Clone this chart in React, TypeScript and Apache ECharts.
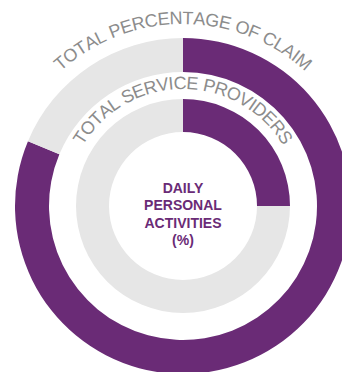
import React, { useEffect, useRef } from "react";
import * as echarts from "echarts";

const outerLabel = "TOTAL PERCENTAGE OF CLAIM";
const innerLabel = "TOTAL SERVICE PROVIDERS";
const centerLabel = ["DAILY", "PERSONAL", "ACTIVITIES", "(%)"];
const outerValues = [81.3, 18.7]; // claim share, remainder
const innerValues = [25, 75]; // providers share, remainder

const PURPLE = "#6a2b76";
const GREY = "#e6e6e6";
const TEXT_GREY = "#8c8c8c";
const FONT = "Liberation Sans, Arial, sans-serif";

const CX = 183;
const CY = 206;

function arcText(text: string, radius: number, fontSize: number) {
  const canvas = document.createElement("canvas");
  const ctx = canvas.getContext("2d") as CanvasRenderingContext2D;
  ctx.font = `${fontSize}px "Liberation Sans", Arial, sans-serif`;
  const widths = Array.from(text).map((ch) => ctx.measureText(ch).width);
  const total = widths.reduce((a, b) => a + b, 0);
  const start = -total / (2 * radius);
  let acc = 0;
  const els: any[] = [];
  Array.from(text).forEach((ch, i) => {
    const theta = start + (acc + widths[i] / 2) / radius;
    acc += widths[i];
    if (ch === " ") return;
    els.push({
      type: "text",
      x: CX + radius * Math.sin(theta),
      y: CY - radius * Math.cos(theta),
      rotation: -theta,
      silent: true,
      style: {
        text: ch,
        fill: TEXT_GREY,
        fontSize,
        fontFamily: FONT,
        align: "center",
        verticalAlign: "middle",
      },
    });
  });
  return els;
}

export default function App() {
  const ref = useRef<HTMLDivElement>(null);
  useEffect(() => {
    document.body.style.margin = "0";
    const chart = echarts.init(ref.current as HTMLDivElement, undefined, { renderer: "svg" });
    chart.setOption({
      animation: false,
      series: [
        {
          type: "pie",
          center: [CX, CY],
          radius: [134, 168],
          startAngle: 90,
          clockwise: true,
          silent: true,
          label: { show: false },
          labelLine: { show: false },
          data: outerValues.map((v, i) => ({
            value: v,
            itemStyle: { color: i === 0 ? PURPLE : GREY },
          })),
        },
        {
          type: "pie",
          center: [CX, CY],
          radius: [74, 107],
          startAngle: 90,
          clockwise: true,
          silent: true,
          label: { show: false },
          labelLine: { show: false },
          data: innerValues.map((v, i) => ({
            value: v,
            itemStyle: { color: i === 0 ? PURPLE : GREY },
          })),
        },
      ],
      graphic: [
        ...arcText(outerLabel, 188, 18),
        ...arcText(innerLabel, 123, 18),
        {
          type: "text",
          x: CX,
          y: 214,
          silent: true,
          style: {
            text: centerLabel.join("\n"),
            fill: PURPLE,
            fontSize: 14,
            fontWeight: "bold",
            fontFamily: FONT,
            lineHeight: 17.5,
            align: "center",
            verticalAlign: "middle",
          },
        },
      ],
    });
    return () => chart.dispose();
  }, []);
  return <div ref={ref} style={{ width: 342, height: 372 }} />;
}
